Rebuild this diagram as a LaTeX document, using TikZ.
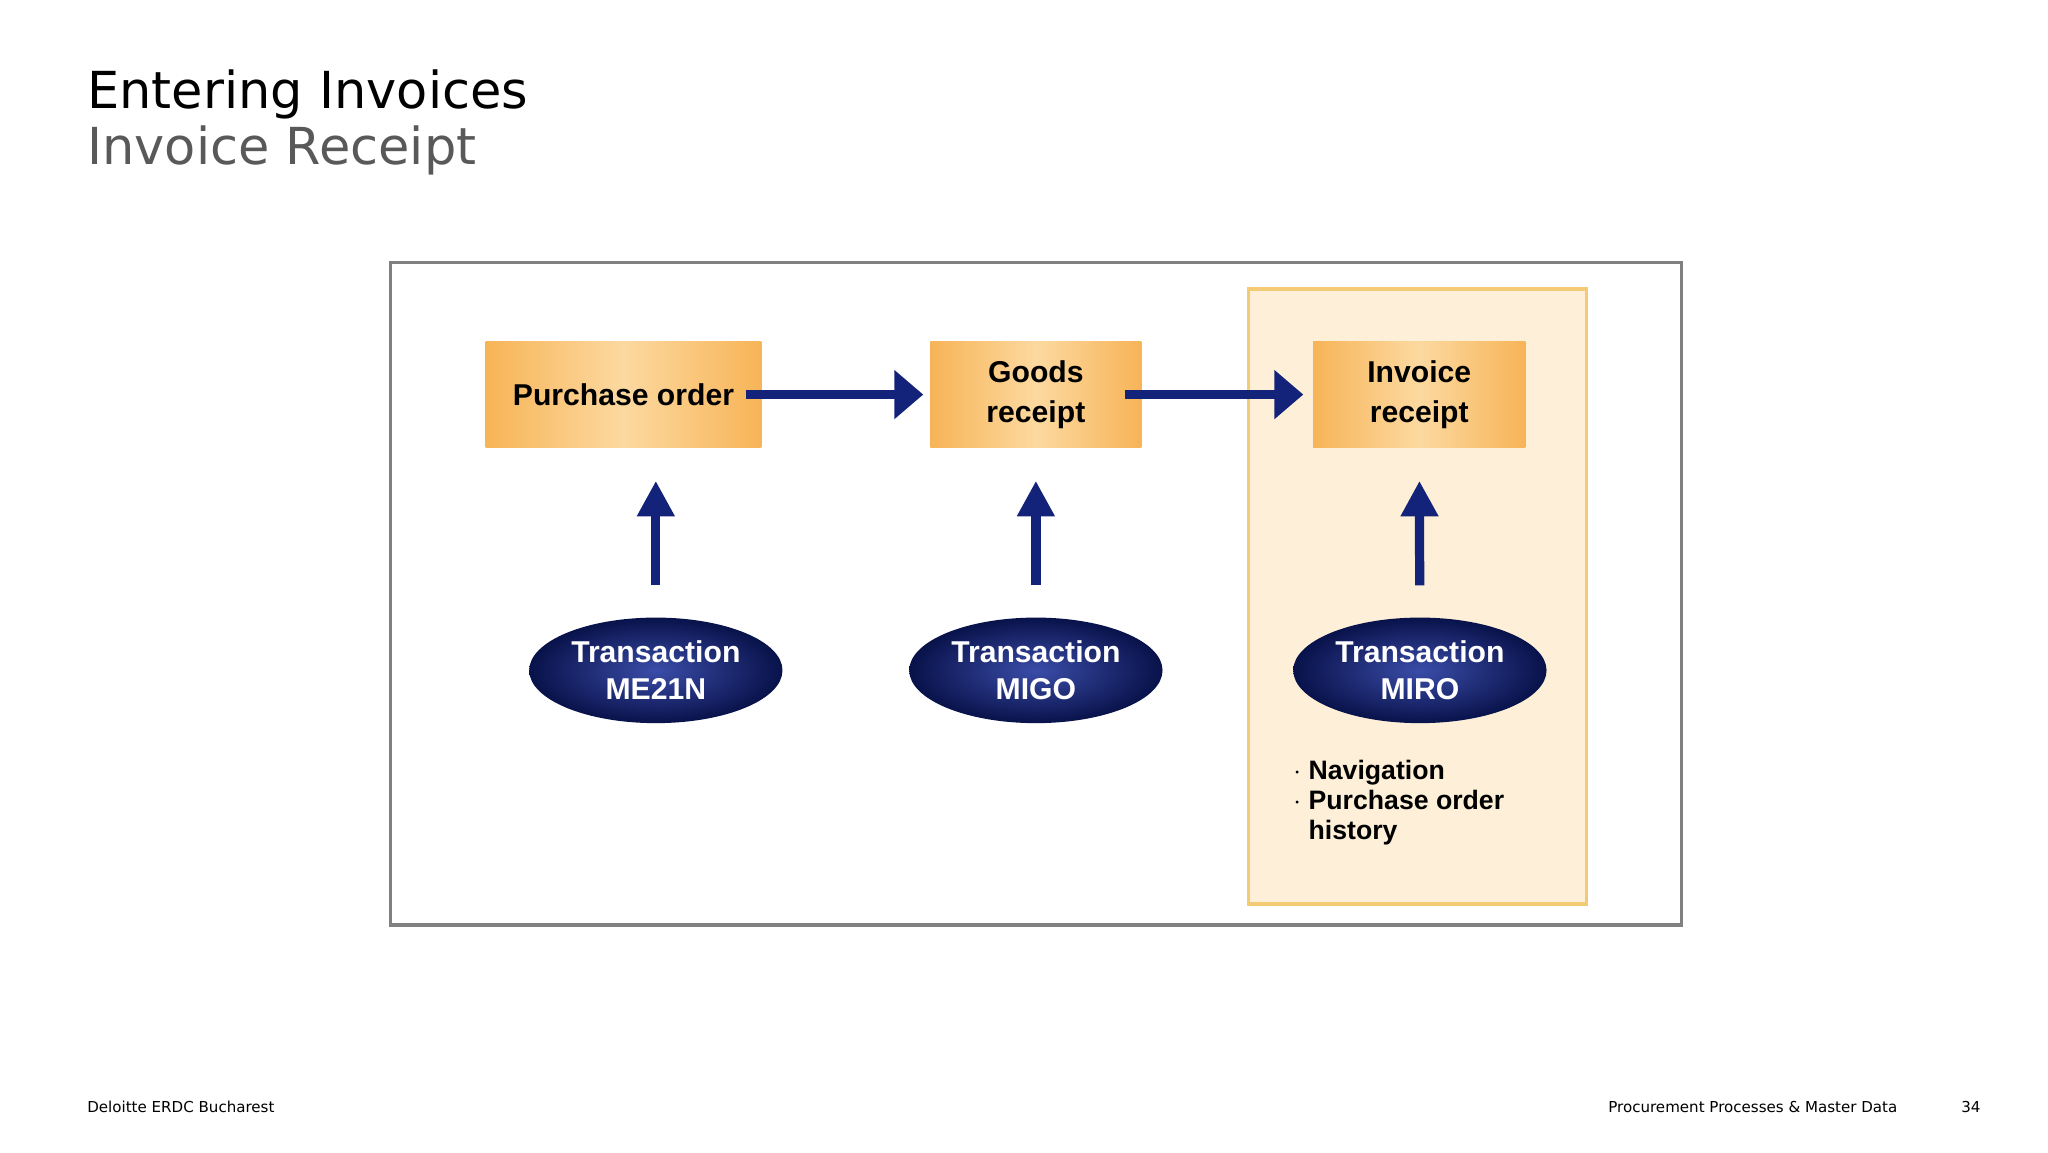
\documentclass[tikz,border=0pt]{standalone}
\usepackage{fontspec}
\setmainfont{DejaVu Sans}
\newfontfamily\arialfont{Liberation Sans}
\usetikzlibrary{arrows.meta,shapes.geometric}
\definecolor{navy}{HTML}{13237A}
\definecolor{navydark}{HTML}{08124A}
\definecolor{navylight}{HTML}{3A4CA8}
\definecolor{boxorange}{HTML}{F7B457}
\definecolor{boxlight}{HTML}{FCD9A0}
\definecolor{panelfill}{HTML}{FDEFD8}
\definecolor{panelline}{HTML}{F3CB74}
\begin{document}
\begin{tikzpicture}[x=0.02cm,y=-0.02cm]
    \tikzset{stage/.style={rectangle,minimum width=4.1cm,minimum height=1.6cm,left color=boxorange,right color=boxorange,middle color=boxlight,align=center,font=\arialfont\bfseries\fontsize{13}{17}\selectfont},
             trans/.style={ellipse,minimum width=3.84cm,minimum height=1.6cm,inner sep=0pt,inner color=navylight,outer color=navydark,text=white,align=center,font=\arialfont\bfseries\fontsize{13}{16}\selectfont},
             flow/.style={draw=navy,line width=0.14cm,-{Triangle[width=0.72cm,length=0.44cm]}},
             feed/.style={draw=navy,line width=0.14cm,-{Triangle[width=0.54cm,length=0.54cm]}}};
            \useasboundingbox (0,0) rectangle (1552,873);
            \node[anchor=base west,font=\fontsize{22}{26}\selectfont] (title) at (60,82) {Entering Invoices};
            \node[anchor=base west,font=\fontsize{22}{26}\selectfont,text=black!65] (sub) at (60,125) {Invoice Receipt};
            
            \draw[black!50,line width=0.05cm] (296,199) rectangle (1274,701);
            \draw[panelline,fill=panelfill,line width=0.05cm] (946,219) rectangle (1202,685);
            
            \node[stage,minimum width=4.18cm] (po) at (472.5,299) {Purchase order};
            \node[stage,minimum width=3.2cm] (gr) at (785,299) {Goods\\receipt};
            \node[stage,minimum width=3.22cm] (ir) at (1075.5,299) {Invoice\\receipt};
            
            \node[trans] (me) at (497,508) {Transaction\\ME21N};
            \node[trans] (migo) at (785,508) {Transaction\\MIGO};
            \node[trans] (miro) at (1076,508) {Transaction\\MIRO};
            
            \draw[flow,shorten <=-0.24cm,shorten >=0.1cm] (po) -- (gr);
            \draw[flow,shorten <=-0.26cm,shorten >=0.14cm] (gr) -- (ir);
            
            \draw[feed,shorten <=0.48cm,shorten >=0.5cm] (me) -- (me |- po.south);
            \draw[feed,shorten <=0.48cm,shorten >=0.5cm] (migo) -- (gr);
            \draw[feed,shorten <=0.48cm,shorten >=0.5cm] (miro) -- (ir);
            
            \node[anchor=north west,align=left,font=\arialfont\bfseries\fontsize{11.5}{13}\selectfont] (notes) at (974,570)
                {$\cdot$ Navigation\\$\cdot$ Purchase order\\\phantom{$\cdot$ }history};
            
            \node[anchor=base west,font=\fontsize{6.5}{8}\selectfont] (foot) at (60,843) {Deloitte ERDC Bucharest};
            \node[anchor=base east,font=\fontsize{6.5}{8}\selectfont] (topic) at (1444,843) {Procurement Processes \& Master Data};
            \node[anchor=base east,font=\fontsize{6.5}{8}\selectfont] (page) at (1507,843) {34};
\end{tikzpicture}
\end{document}
